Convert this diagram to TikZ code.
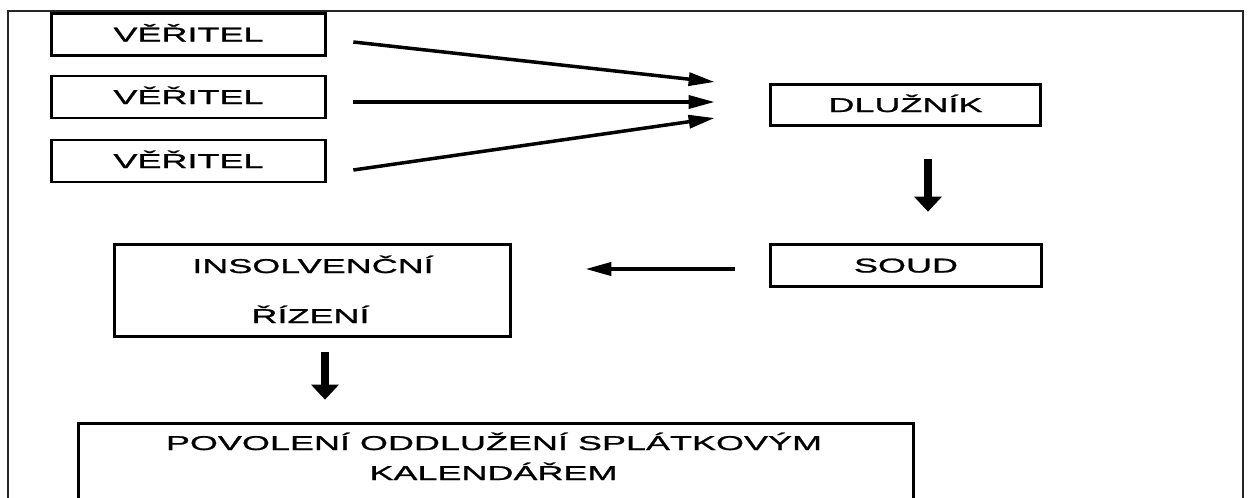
\documentclass[tikz,border=0pt]{standalone}
\usepackage{fontspec}
\newfontfamily\boxfont[FakeStretch=1.8,FakeBold=1]{Liberation Sans}
\usetikzlibrary{arrows.meta}
\begin{document}
\begin{tikzpicture}[x=1pt,y=-1pt,
  box/.style={draw, line width=2.7pt, inner sep=0pt, text height=14pt, text depth=0pt,
    font=\boxfont\fontsize{20}{20}\selectfont},
  lbl/.style={inner sep=0pt, anchor=base, font=\boxfont\fontsize{20}{20}\selectfont},
  thinarrow/.style={line width=3.5pt, -{Triangle[length=26pt,width=13pt]}},
  thickarrow/.style={line width=7.5pt, -{Triangle[length=15pt,width=27pt]}},
]
\clip (0,0) rectangle (1248,498);
\fill[white] (0,0) rectangle (1248,498);
\draw[line width=1.6pt, black!85] (8,11) rectangle (1243,560);

\node[box, minimum width=274pt, minimum height=42pt] (v1) at (188.5,34.5) {VĚŘITEL};
\node[box, minimum width=274pt, minimum height=42pt] (v2) at (188.5,97) {VĚŘITEL};
\node[box, minimum width=274pt, minimum height=42pt] (v3) at (188.5,161) {VĚŘITEL};
\node[box, minimum width=270pt, minimum height=41pt] (dl) at (905.5,105) {DLUŽNÍK};
\node[box, minimum width=271pt, minimum height=42pt] (soud) at (906,265.5) {SOUD};
\node[box, minimum width=396pt, minimum height=92pt] (ins) at (312.5,290.5) {};
\node[lbl] (ins1) at (313,273) {INSOLVENČNÍ};
\node[lbl] (ins2) at (310.5,323) {ŘÍZENÍ};
\node[box, minimum width=835pt, minimum height=120pt] (pov) at (496,483.3) {};
\node[lbl] (pov1) at (494,450) {POVOLENÍ ODDLUŽENÍ SPLÁTKOVÝM};
\node[lbl] (pov2) at (493.5,480) {KALENDÁŘEM};

\draw[thinarrow] ([xshift=26.5pt,yshift=-7.5pt]v1.east) -- ([xshift=-54.5pt,yshift=23pt]dl.west);
\draw[thinarrow] ([xshift=26.5pt,yshift=-5pt]v2.east) -- ([xshift=-54.5pt,yshift=3pt]dl.west);
\draw[thinarrow] ([xshift=26.5pt,yshift=-9pt]v3.east) -- ([xshift=-54.5pt,yshift=-13pt]dl.west);
\draw[thickarrow] ([xshift=22.5pt,yshift=-32.5pt]dl.south) -- ([xshift=22pt,yshift=31.5pt]soud.north);
\draw[line width=4pt, -{Triangle[length=26pt,width=13pt]}] ([xshift=-34.5pt,yshift=-3.5pt]soud.west) -- ([xshift=73.5pt,yshift=21.5pt]ins.east);
\draw[thickarrow] ([xshift=12.5pt,yshift=-14.5pt]ins.south) -- ([xshift=-171pt,yshift=22.3pt]pov.north);
\end{tikzpicture}
\end{document}
